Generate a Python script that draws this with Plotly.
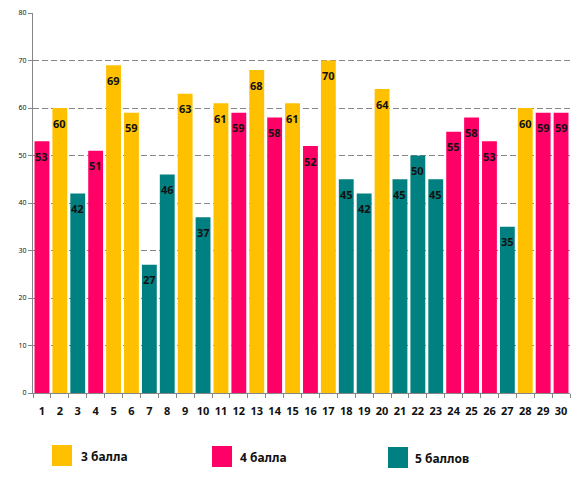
import plotly.graph_objects as go

categories = [str(i) for i in range(1, 31)]
values = [53, 60, 42, 51, 69, 59, 27, 46, 63, 37,
          61, 59, 68, 58, 61, 52, 70, 45, 42, 64,
          45, 50, 45, 55, 58, 53, 35, 60, 59, 59]
grades = ["4", "3", "5", "4", "3", "3", "5", "5", "3", "5",
          "3", "4", "3", "4", "3", "4", "3", "5", "5", "3",
          "5", "5", "5", "4", "4", "4", "5", "3", "4", "4"]
series_names = {"3": "3 балла", "4": "4 балла", "5": "5 баллов"}
series_colors = {"3": "#FFC000", "4": "#FF0066", "5": "#008080"}
y_ticks = [0, 10, 20, 30, 40, 50, 60, 70, 80]

FONT = "Noto Sans"
fig = go.Figure()
for g in ["3", "4", "5"]:
    xs = [c for c, gg in zip(categories, grades) if gg == g]
    ys = [v for v, gg in zip(values, grades) if gg == g]
    fig.add_trace(go.Bar(x=xs, y=ys, name=series_names[g],
                         marker=dict(color=series_colors[g], line=dict(width=0)),
                         showlegend=False))

annotations = []
for idx, v in enumerate(values):
    # on a category axis, annotation x is the category's index
    annotations.append(dict(x=idx, y=v, text=str(v), showarrow=False,
                            yanchor="middle", yshift=-15,
                            font=dict(family=FONT, size=11, color="#111111", weight="bold")))

# legend drawn manually (large swatches)
L, W, T, H = 33, 537, 13, 380
def px(x):
    return (x - L) / W
def py(y):
    return (T + H - y) / H

shapes = []
legend_pos = [("3", 52, 445, 79), ("4", 212, 446, 238), ("5", 388, 447, 413)]
for g, sx, sy, tx in legend_pos:
    shapes.append(dict(type="rect", xref="paper", yref="paper",
                       x0=px(sx), x1=px(sx + 20), y0=py(sy), y1=py(sy + 21),
                       fillcolor=series_colors[g], line=dict(width=0)))
    annotations.append(dict(xref="paper", yref="paper", x=px(tx), y=py(sy + 11),
                            xanchor="left", yanchor="middle", showarrow=False,
                            text=series_names[g],
                            font=dict(family=FONT, size=12, color="#111111", weight="bold")))

fig.update_layout(
    width=579, height=477,
    margin=dict(l=L, r=579 - L - W, t=T, b=477 - T - H),
    paper_bgcolor="white", plot_bgcolor="white",
    barmode="overlay", bargap=0.17,
    annotations=annotations, shapes=shapes,
    showlegend=False,
    xaxis=dict(type="category", categoryorder="array", categoryarray=categories,
               showline=True, linecolor="#868686", linewidth=1,
               ticks="outside", ticklen=4, tickcolor="#868686", tickson="boundaries",
               showgrid=False, ticklabelstandoff=8, tickangle=0,
               tickfont=dict(family=FONT, size=11, color="#111111", weight="bold")),
    yaxis=dict(range=[0, 80], tickvals=y_ticks, showline=True, linecolor="#868686",
               linewidth=1, ticks="outside", ticklen=4, tickcolor="#868686",
               showgrid=True, gridcolor="#868686", griddash="6px,3px", gridwidth=1,
               zeroline=False,
               tickfont=dict(family=FONT, size=7, color="#111111")),
)

fig.write_html("out.html")
